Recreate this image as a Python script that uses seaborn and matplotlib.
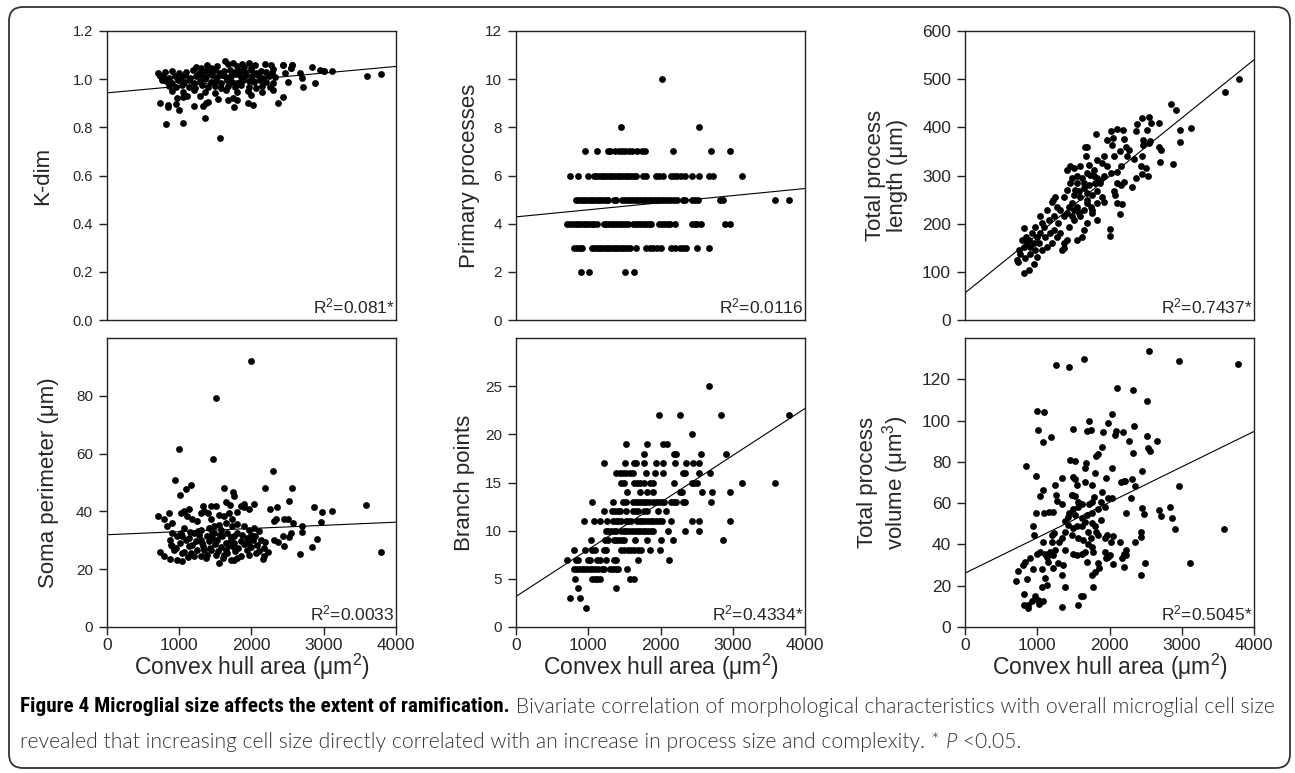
import numpy as np
import pandas as pd
import matplotlib
matplotlib.use("Agg")
import matplotlib.pyplot as plt
from matplotlib import font_manager as fm
import seaborn as sns
from matplotlib.patches import FancyBboxPatch

# ---------------- data ----------------
x_ticks = [0, 1000, 2000, 3000, 4000]

kdim_pts = [
    (1630, 1.075), (1680, 1.062), (1520, 1.055), (1870, 1.062), (1500, 1.044), (1380, 1.058), (1440, 1.048),
    (2180, 1.062), (2270, 1.06), (2430, 1.059), (2555, 1.059), (1230, 1.052), (1300, 1.047), (1800, 1.054),
    (1900, 1.05), (2000, 1.046), (2300, 1.042), (2546, 1.045), (2832, 1.05), (2948, 1.04), (3119, 1.035),
    (3003, 1.032), (1740, 1.066), (2050, 1.058), (1960, 1.066), (707, 1.025), (740, 1.015), (760, 0.998),
    (800, 1.028), (905, 1.033), (1000, 1.025), (1095, 1.031), (1195, 1.036), (1280, 1.027), (1350, 1.034),
    (1425, 1.029), (1495, 1.037), (1560, 1.026), (1625, 1.033), (1700, 1.038), (1765, 1.028), (1840, 1.035),
    (1915, 1.03), (1995, 1.036), (2060, 1.027), (2125, 1.034), (2205, 1.03), (2280, 1.025),
    (780, 1.012), (860, 1.006), (940, 1.015), (1020, 1.009), (1080, 1.017), (1150, 1.005), (1230, 1.013),
    (1300, 1.018), (1370, 1.008), (1450, 1.016), (1520, 1.011), (1590, 1.019), (1650, 1.007), (1720, 1.014),
    (1790, 1.02), (1860, 1.009), (1930, 1.016), (2010, 1.012), (2090, 1.018), (2160, 1.006), (2240, 1.014),
    (2330, 1.01), (820, 0.992), (900, 0.986), (980, 0.996), (1060, 0.989), (1140, 0.998), (1210, 0.985),
    (1290, 0.994), (1360, 0.999), (1440, 0.988), (1510, 0.995), (1580, 0.984), (1660, 0.997), (1730, 0.99),
    (1810, 0.986), (1880, 0.998), (1960, 0.993), (2040, 0.987), (2120, 0.996), (2200, 0.99), (2300, 0.983),
    (860, 0.972), (950, 0.966), (1040, 0.976), (1130, 0.969), (1220, 0.964), (1310, 0.975), (1400, 0.968),
    (1490, 0.973), (1580, 0.962), (1680, 0.971), (1770, 0.966), (1860, 0.975), (1960, 0.969), (2060, 0.963),
    (2150, 0.972), (2250, 0.967), (900, 0.952), (1050, 0.946), (1200, 0.955), (1350, 0.948), (1500, 0.944),
    (1650, 0.953), (1800, 0.947), (1950, 0.95), (2150, 0.945),
    (739, 0.903), (845, 0.894), (845, 0.883), (961, 0.896), (998, 0.873), (1053, 0.925), (970, 0.921),
    (1109, 0.931), (1206, 0.887), (1284, 0.932), (1331, 0.887), (1368, 0.903), (1400, 0.907), (1538, 0.918),
    (1668, 0.914), (1746, 0.921), (1756, 0.883), (1793, 0.914), (1954, 0.903), (2024, 0.894), (2000, 0.935),
    (2361, 0.901), (2439, 0.925), (2300, 0.956), (813, 0.815), (1053, 0.818), (1358, 0.838), (1562, 0.756),
    (2670, 1.025), (2693, 1.004), (2707, 0.967), (2878, 0.983), (2462, 1.025), (2509, 0.99), (2546, 1.045),
    (2430, 1.059), (2555, 1.059), (3594, 1.014), (3793, 1.021), (3003, 1.032),
]

# primary processes: integer count -> convex hull areas of the cells
primary_rows = {
    10: [2014],
    8: [1452, 2539],
    7: [949, 1124, 1267, 1304, 1373, 1419, 1465, 1511, 1558, 1604, 1673, 1742, 1788, 2170, 2696, 2968],
    6: [742, 852, 991, 1074, 1111, 1147, 1184, 1221, 1258, 1295, 1332, 1369, 1405, 1442, 1479, 1516, 1553,
        1590, 1627, 1663, 1756, 1802, 1931, 1977, 2032, 2143, 2189, 2235, 2281, 2346, 2438, 2530, 2677,
        2723, 3124],
    5: [834, 871, 908, 945, 982, 1018, 1055, 1092, 1129, 1166, 1203, 1240, 1267, 1350, 1387, 1470, 1507,
        1544, 1581, 1617, 1654, 1691, 1728, 1765, 1802, 1839, 1875, 1912, 1949, 1986, 2023, 2060, 2097,
        2143, 2189, 2226, 2309, 2346, 2438, 2475, 2521, 2825, 2871, 3585, 3783],
    4: [705, 751, 788, 825, 862, 899, 935, 972, 1009, 1046, 1083, 1120, 1212, 1249, 1286, 1323, 1359, 1396,
        1433, 1470, 1507, 1544, 1617, 1654, 1691, 1728, 1765, 1802, 1839, 1875, 1986, 2023, 2060, 2097,
        2134, 2207, 2438, 2475, 2511, 2567, 2898, 2963],
    3: [806, 843, 880, 917, 1055, 1092, 1129, 1166, 1203, 1240, 1276, 1313, 1350, 1387, 1424, 1461, 1498,
        1535, 1571, 1663, 1802, 1848, 1894, 1949, 2004, 2152, 2207, 2263, 2318, 2355, 2502, 2668],
    2: [903, 1005, 1511, 1627],
}

length_pts = [
    (3797, 500), (3598, 473), (2847, 449), (2917, 437), (3134, 399), (2977, 394), (2977, 370), (2880, 324),
    (2695, 329), (2681, 360), (2709, 353), (2546, 422), (2454, 420), (2570, 409), (2686, 409), (2375, 407),
    (2361, 392), (2468, 373), (2468, 364), (2523, 395), (2560, 371), (2546, 367), (2454, 340), (2338, 335),
    (2431, 319), (2500, 315), (2537, 299), (2454, 303), (2361, 294), (2315, 277), (2107, 397), (2185, 395),
    (2014, 392), (2051, 378), (2037, 364), (2199, 376), (2222, 360), (2268, 353), (2245, 340), (2144, 350),
    (2060, 340), (2153, 319), (2097, 308), (1968, 373), (1820, 387), (1690, 360), (1671, 340), (1921, 340),
    (1968, 319), (2014, 305), (2107, 285), (2153, 281), (2199, 286), (2060, 267), (2074, 260), (2176, 241),
    (2144, 220), (2005, 188), (2005, 175), (1829, 208), (1759, 228), (1898, 256), (1921, 246),
    (718, 124), (732, 121), (820, 97), (880, 103), (810, 190), (847, 173), (857, 159), (903, 138), (949, 117),
    (995, 131), (1018, 159), (1065, 201), (1111, 173), (1134, 152), (1204, 159), (1227, 187), (1236, 215),
    (1282, 201), (1319, 180), (1366, 159), (1412, 166), (1343, 145), (1375, 149), (1435, 194), (1505, 208),
    (1482, 242), (1551, 235), (1597, 215), (1644, 187), (1621, 173), (1551, 166), (1690, 201), (1528, 270),
    (1459, 284), (1412, 270), (1366, 256), (1250, 256), (1218, 249), (1134, 228), (1042, 215), (973, 194),
    (926, 180), (880, 166), (810, 152), (764, 138),
    (1412, 312), (1459, 319), (1514, 315), (1597, 319), (1667, 360), (1551, 298), (1621, 294), (1690, 305),
    (1736, 302), (1782, 298), (1829, 294), (1875, 284), (1806, 284), (1713, 281), (1644, 274), (1574, 267),
    (1505, 260), (1597, 256), (1690, 249), (1759, 260), (1829, 267), (1875, 291), (1921, 298), (1782, 312),
    (1713, 322), (1829, 333), (1898, 326), (1551, 284), (1482, 294), (1435, 235), (1505, 228), (1574, 222),
    (1653, 228), (1745, 235), (1829, 242), (1319, 228), (1366, 215), (1273, 235), (1204, 246), (1157, 208),
    (1088, 194), (1042, 180), (1181, 180), (1273, 173), (995, 173), (949, 159), (903, 152), (787, 166),
    (741, 145), (833, 128), (972, 145), (1065, 145), (1551, 228), (1482, 215), (1412, 222), (1690, 242),
    (1759, 222), (2107, 242), (1690, 263), (1653, 284),
]

soma_pts = [
    (1991, 92.1), (1514, 79.2), (991, 61.5), (1468, 58.0), (2301, 53.9), (935, 51.0), (1009, 45.8),
    (1088, 47.6), (1167, 49.1), (1621, 48.1), (1750, 46.8), (1759, 45.5), (2190, 48.1), (2556, 48.1),
    (2523, 43.5), (2028, 42.6), (2259, 40.9), (2352, 41.4), (2871, 41.4), (2973, 39.7), (3116, 40.3),
    (3588, 42.1), (3787, 25.8), (2963, 36.2), (2908, 30.6), (2834, 27.7), (2667, 25.2), (2704, 34.8),
    (2699, 32.9), (2570, 36.0), (2500, 37.2), (2445, 37.5), (2338, 37.4), (2315, 36.6), (2315, 30.0),
    (2361, 29.3), (2445, 28.1), (2431, 31.4), (2523, 31.1), (2547, 32.5),
    (704, 38.3), (856, 39.5), (787, 37.2), (833, 34.8), (902, 36.0), (870, 30.2), (902, 27.9), (732, 25.8),
    (787, 24.7), (870, 23.5), (963, 23.3), (1042, 23.0), (1032, 25.6), (926, 26.7), (1019, 39.5),
    (1065, 40.2), (1134, 40.9), (1111, 38.3), (1181, 37.4), (1250, 36.8), (1296, 39.5), (1343, 40.0),
    (1398, 39.5), (1333, 42.0), (1505, 41.8), (1704, 42.1), (1852, 41.8), (1898, 41.4), (1805, 39.7),
    (1690, 39.5), (1621, 38.3), (1551, 38.9), (1444, 37.2), (1412, 34.3), (1065, 34.3), (1204, 32.5),
    (1259, 33.1), (1296, 30.2), (1389, 31.4), (1481, 32.5), (1574, 33.7), (1667, 32.5), (1736, 34.8),
    (1805, 35.8), (1898, 35.1), (1967, 33.7), (2037, 34.3), (2107, 33.1), (2130, 30.2), (2083, 28.5),
    (2176, 27.3), (2167, 24.4), (2153, 23.5), (2060, 25.6), (1967, 25.0), (1944, 26.7), (1852, 29.6),
    (1759, 31.4), (1736, 27.9), (1667, 25.6), (1759, 23.3), (1805, 23.8), (1713, 23.3), (1621, 25.0),
    (1551, 22.1), (1505, 25.0), (1435, 26.7), (1389, 25.0), (1343, 26.7), (1296, 24.7), (1204, 24.4),
    (1157, 25.6), (1134, 27.9), (1088, 30.2), (1042, 31.4), (1134, 30.7), (1227, 29.6), (1319, 29.0),
    (1412, 29.6), (1528, 30.2), (1597, 31.4), (1644, 29.0), (1713, 30.2), (1805, 32.5), (1875, 31.9),
    (1944, 30.7), (2014, 30.2), (1991, 31.9), (1458, 32.5), (1551, 35.4), (1644, 36.0), (1736, 37.2),
    (1481, 34.8), (972, 31.4), (902, 32.5), (1019, 32.5), (1435, 41.8), (1644, 43.2), (1898, 42.4),
    (1967, 40.9),
    (960, 27.5), (1010, 29.0), (1070, 26.0), (1120, 24.2), (1180, 28.3), (1240, 26.5), (1280, 31.8),
    (1330, 28.0), (1370, 23.8), (1420, 27.2), (1460, 30.8), (1500, 28.6), (1540, 26.3), (1580, 27.8),
    (1600, 24.0), (1650, 26.8), (1690, 28.4), (1720, 31.0), (1770, 26.2), (1820, 27.4), (1860, 24.6),
    (1900, 28.8), (1950, 29.2), (2000, 27.6), (2050, 31.6), (2100, 26.4), (2180, 29.5), (2230, 25.8),
    (1300, 33.6), (1560, 32.0), (1760, 29.0), (880, 28.5), (1150, 33.0),
]

branch_rows = {
    25: [2673],
    22: [1977, 2263, 2834, 3783],
    20: [2442],
    19: [1525, 1811, 2032, 2088],
    18: [1774, 2180, 2217, 2562, 2908],
    17: [1221, 1511, 1627, 1663, 1774, 1940, 2032, 2203, 2355, 2447, 2539],
    16: [1387, 1433, 1479, 1525, 1571, 1617, 1802, 1917, 2032, 2309, 2346, 2539, 2686],
    15: [1452, 1488, 1627, 1673, 1719, 1765, 1857, 1903, 2189, 2433, 2470, 2507, 3124, 3590],
    14: [1534, 1710, 1811, 1903, 2263, 2300, 2571, 2714, 2963],
    13: [1051, 1341, 1479, 1516, 1617, 1654, 1691, 1728, 1765, 1802, 1839, 1903, 1940, 1977, 2014, 2051,
         2143, 2180, 2217, 2309, 2346, 2700],
    12: [1212, 1332, 1369, 1406, 1442, 1525, 1617, 1654, 1691, 1774, 1811, 1972, 2078],
    11: [945, 1074, 1166, 1258, 1341, 1378, 1415, 1452, 1516, 1553, 1590, 1673, 1710, 1747, 1792, 1829,
         1866, 1903, 1940, 1977, 2014, 2143, 2438, 2530, 2963],
    10: [1240, 1276, 1313, 1350, 1387, 1452, 1488, 1525, 1562, 1599, 1645, 1682, 1719, 1756, 1792, 1829,
         1866, 1903, 2106, 2336, 2530],
    9: [1037, 1235, 1267, 1350, 1387, 1424, 1461, 1498, 1645, 1811, 2004, 2170, 2871],
    8: [797, 958, 1055, 1092, 1212, 1249, 1452, 1498, 1544, 1590, 1636, 1682, 1728, 1857, 1995],
    7: [705, 834, 852, 991, 1028, 1120, 1157, 1249, 1350, 1387, 1682, 2124],
    6: [797, 834, 871, 908, 945, 982, 1018, 1055, 1092, 1129, 1189, 1221, 1304, 1341, 1378, 1415, 1535],
    5: [820, 1051, 1088, 1125, 1161, 1571, 1627],
    4: [852, 1387],
    3: [742, 880],
    2: [968],
}

volume_pts = [
    (2544, 133.5), (1258, 127.1), (1442, 126.0), (1650, 129.7), (2968, 128.7), (3779, 127.6), (2101, 115.8),
    (2327, 114.8), (2516, 109.7), (991, 104.5), (1097, 104.2), (2037, 103.4), (1014, 95.3), (1074, 89.4),
    (1189, 92.1), (1493, 95.8), (1682, 94.8), (1742, 95.3), (1723, 99.7), (1912, 94.5), (1986, 99.0),
    (2078, 93.2), (2092, 94.8), (2184, 94.5), (2267, 90.0), (2341, 97.4), (2322, 84.4), (2520, 92.6),
    (2534, 86.8), (2567, 85.5), (2663, 90.3), (1903, 87.3), (1820, 82.7), (1834, 83.9), (1447, 81.1),
    (1521, 80.6), (1659, 77.1), (1677, 79.4), (1797, 74.8), (2028, 76.8), (2207, 70.6), (2447, 75.6),
    (2318, 71.9), (2350, 68.2), (2304, 62.7), (1958, 72.4), (1493, 72.7), (1521, 71.9), (1336, 72.4),
    (1244, 69.0), (848, 77.9), (981, 73.2), (1074, 66.3), (1041, 63.4), (1258, 63.9), (1267, 61.0),
    (1346, 59.4), (1484, 63.9), (1521, 63.5), (1622, 59.8), (1714, 59.8), (1788, 63.1), (1880, 60.6),
    (1898, 65.5), (1981, 62.3), (2028, 62.6), (1935, 58.2), (1567, 58.2), (1498, 57.4), (1438, 55.3),
    (1097, 55.3), (1166, 55.8), (1221, 55.8), (977, 55.0), (2682, 56.6), (2709, 53.9), (2834, 58.2),
    (2866, 52.9), (2903, 47.4), (2958, 68.2), (3580, 47.7), (3119, 30.8), (2447, 57.7), (2475, 54.8),
    (2235, 55.0), (945, 49.0), (949, 44.5), (1074, 41.3), (1230, 45.6), (1382, 51.3), (1428, 49.4),
    (1493, 48.1), (1544, 49.0), (1613, 52.6), (1682, 54.2), (1751, 55.0), (1622, 49.0), (1705, 46.1),
    (1751, 50.6), (1797, 49.0), (1815, 46.1), (1843, 44.5), (1742, 42.9), (1636, 42.1), (1567, 42.9),
    (1475, 44.5), (1382, 46.1), (1336, 42.9), (1299, 41.3), (1382, 37.3), (1498, 35.2), (1544, 34.8),
    (1613, 35.6), (1659, 36.5), (1705, 40.0), (1751, 38.9), (1774, 36.5), (1682, 31.6), (1797, 26.8),
    (1751, 25.2), (1765, 19.5), (1604, 15.0), (1567, 10.6), (1627, 15.2), (1198, 41.3), (1244, 37.3),
    (1175, 36.5), (1221, 34.8), (1290, 30.8), (1221, 28.4), (1359, 30.0), (1336, 25.2), (1382, 19.5),
    (1336, 9.8), (1129, 34.0), (1106, 35.6), (1069, 28.1), (1106, 23.5), (1129, 20.3), (1060, 19.2),
    (1014, 13.1), (1083, 12.6), (1023, 11.0), (968, 15.2), (922, 12.6), (875, 10.6), (820, 10.6),
    (866, 9.0), (820, 15.8), (852, 23.2), (705, 22.4), (737, 27.3), (806, 30.0), (834, 31.6), (894, 33.2),
    (940, 28.1), (991, 35.6), (1944, 42.9), (1972, 44.5), (2018, 41.3), (2055, 44.2), (1935, 36.5),
    (1981, 34.0), (2004, 34.8), (1949, 33.2), (2055, 30.6), (1857, 28.4), (1834, 30.8), (2142, 41.3),
    (2203, 35.6), (2175, 33.2), (2226, 34.8), (2203, 29.2), (2235, 37.1), (2433, 43.7), (2433, 45.8),
    (2433, 25.2), (2488, 30.8), (2350, 41.0), (2166, 70.3), (2212, 70.6), (1548, 68.7), (1659, 70.3),
    (1751, 68.7), (1475, 63.9), (1567, 60.6), (1419, 53.4), (1659, 51.0), (1521, 54.2), (1880, 51.8),
    (1843, 57.4), (1751, 60.6), (1198, 44.5), (1037, 36.5), (1152, 31.6),
]

r2_labels = ["R$^2$=0.081*", "R$^2$=0.0116", "R$^2$=0.7437*",
             "R$^2$=0.0033", "R$^2$=0.4334*", "R$^2$=0.5045*"]
y_labels = ["K-dim", "Primary processes", "Total process\nlength (\u03bcm)",
            "Soma perimeter (\u03bcm)", "Branch points", "Total process\nvolume (\u03bcm$^3$)"]
x_label = "Convex hull area (\u03bcm$^2$)"
caption_bold = "Figure 4 Microglial size affects the extent of ramification."
caption_rest1 = " Bivariate correlation of morphological characteristics with overall microglial cell size"
caption_line2 = "revealed that increasing cell size directly correlated with an increase in process size and complexity. * "
caption_p = "P"
caption_end = " <0.05."


def pts_frame(pts):
    return pd.DataFrame(pts, columns=["area", "value"])


def rows_frame(rows):
    recs = [(x, level) for level, xs in rows.items() for x in xs]
    return pd.DataFrame(recs, columns=["area", "value"])


frames = [pts_frame(kdim_pts), rows_frame(primary_rows), pts_frame(length_pts),
          pts_frame(soma_pts), rows_frame(branch_rows), pts_frame(volume_pts)]
ylims = [(0, 1.2), (0, 12), (0, 600), (0, 100), (0, 30), (0, 140)]
yticks = [np.round(np.arange(0, 1.21, 0.2), 1), np.arange(0, 13, 2), np.arange(0, 601, 100),
          np.arange(0, 81, 20), np.arange(0, 26, 5), np.arange(0, 121, 20)]
ytick_fmt = ["{:.1f}", "{:.0f}", "{:.0f}", "{:.0f}", "{:.0f}", "{:.0f}"]
ytick_fs = [10.5, 11, 12.5, 11, 11, 12.5]
ylabel_pad = [14, 4, 10, 12, 7, 8]

# ---------------- style ----------------
sns.set_style("ticks")
plt.rcParams['font.family'] = ['Liberation Sans', 'DejaVu Sans']
plt.rcParams['mathtext.fontset'] = 'custom'
plt.rcParams['mathtext.rm'] = 'Liberation Sans'
plt.rcParams['mathtext.it'] = 'Liberation Sans:italic'
plt.rcParams['mathtext.bf'] = 'Liberation Sans:bold'


# ---------------- caption fonts ----------------
def _w(f):
    w = f.weight
    if isinstance(w, str):
        return int(w) if w.isdigit() else fm.weight_dict.get(w, 400)
    return int(w)


_all = fm.fontManager.ttflist
# regular text: a light, normal-width humanist sans (close to the journal's caption face)
reg_family, reg_weight = "Liberation Sans", 400
for fam in ["Lato", "Roboto", "Open Sans", "Noto Sans"]:
    ws = [_w(f) for f in _all if f.name == fam and str(f.stretch) == "normal" and f.style == "normal"]
    light = [w for w in ws if w <= 350]
    if light:
        reg_family, reg_weight = fam, max(light)
        break

# bold lead-in: a condensed bold if one is installed
_bold = [f for f in _all if ("Narrow" in f.name or "Condensed" in f.name
                             or str(f.stretch) in ("condensed", "semi-condensed")) and _w(f) >= 600]
_pref = ["Liberation Sans Narrow", "Roboto", "Open Sans", "Noto Sans", "DejaVu Sans"]
_bold.sort(key=lambda f: next((k for k, p in enumerate(_pref) if f.name.startswith(p)), 99))
if _bold:
    bold_family, bold_stretch = _bold[0].name, str(_bold[0].stretch)
else:
    bold_family, bold_stretch = reg_family, "normal"

prop_reg = fm.FontProperties(family=[reg_family, "DejaVu Sans"], weight=reg_weight)
prop_bold = fm.FontProperties(family=[bold_family, "DejaVu Sans"], stretch=bold_stretch, weight="bold")
prop_it = fm.FontProperties(family=[reg_family, "DejaVu Sans"], weight=reg_weight, style="italic")

W, H = 1295, 773
fig = plt.figure(figsize=(W / 100, H / 100), dpi=100)

col_px = [(107, 289), (516, 289), (965, 289)]
row_px = [(31, 320), (338, 627)]

spine_col = "#222222"
for i in range(6):
    r, c = divmod(i, 3)
    left, width = col_px[c]
    top, bottom = row_px[r]
    ax = fig.add_axes([left / W, 1 - bottom / H, width / W, (bottom - top) / H])
    ax.set_xlim(0, 4000)
    ax.set_ylim(*ylims[i])
    df = frames[i]
    sns.regplot(data=df, x="area", y="value", ax=ax, ci=None, truncate=False,
                scatter_kws=dict(s=24, color="black", linewidths=0, alpha=1),
                line_kws=dict(color="black", lw=0.8))
    ax.set_xlim(0, 4000)
    ax.set_ylim(*ylims[i])
    ax.set_yticks(yticks[i])
    ax.set_yticklabels([ytick_fmt[i].format(v) for v in yticks[i]], fontsize=ytick_fs[i])
    ax.set_xticks(x_ticks)
    for sp in ax.spines.values():
        sp.set_visible(True)
        sp.set_linewidth(1.0)
        sp.set_color(spine_col)
    ax.tick_params(direction="out", length=6, width=1.0, color=spine_col, pad=4)
    ax.set_ylabel(y_labels[i], fontsize=16, labelpad=ylabel_pad[i], linespacing=1.1)
    if r == 0:
        ax.tick_params(axis="x", bottom=False, labelbottom=False)
        ax.set_xlabel("")
    else:
        ax.tick_params(axis="x", pad=2)
        ax.set_xticklabels([str(v) for v in x_ticks], fontsize=12.5)
        ax.set_xlabel(x_label, fontsize=16.5, labelpad=-1)
    ax.text(0.995, 0.012, r2_labels[i], transform=ax.transAxes, ha="right", va="bottom",
            fontsize=12.5)

# rounded frame around the figure
frame = FancyBboxPatch((0.09, 0.05), 12.81, 7.61, boxstyle="round,pad=0,rounding_size=0.14",
                       transform=fig.dpi_scale_trans, facecolor="none", edgecolor="#333333",
                       linewidth=1.3)
fig.add_artist(frame)

# caption: size fitted so that the first line spans the reference width
fig.canvas.draw()
renderer = fig.canvas.get_renderer()


def text_w(s, prop, size):
    p = prop.copy()
    p.set_size(size)
    w, _, _ = renderer.get_text_width_height_descent(s, p, ismath=False)
    return w


line1_px = 1256.0
w12 = text_w(caption_bold, prop_bold, 12) + text_w(caption_rest1, prop_reg, 12)
cap_fs = float(np.clip(12 * line1_px / w12, 9, 16))

x_px = 20.0
y1 = 1 - 707 / H
y2 = 1 - 742 / H


def put(xp, y, s, prop, color):
    p = prop.copy()
    p.set_size(cap_fs)
    fig.text(xp / W, y, s, fontproperties=p, va="center", ha="left", color=color)
    return xp + text_w(s, prop, cap_fs)


xb = put(x_px, y1, caption_bold, prop_bold, "black")
put(xb, y1, caption_rest1, prop_reg, "#333333")
xa = put(x_px, y2, caption_line2, prop_reg, "#333333")
xa = put(xa, y2, caption_p, prop_it, "#333333")
put(xa, y2, caption_end, prop_reg, "#333333")

fig.savefig("out.png", dpi=100, facecolor="white")
